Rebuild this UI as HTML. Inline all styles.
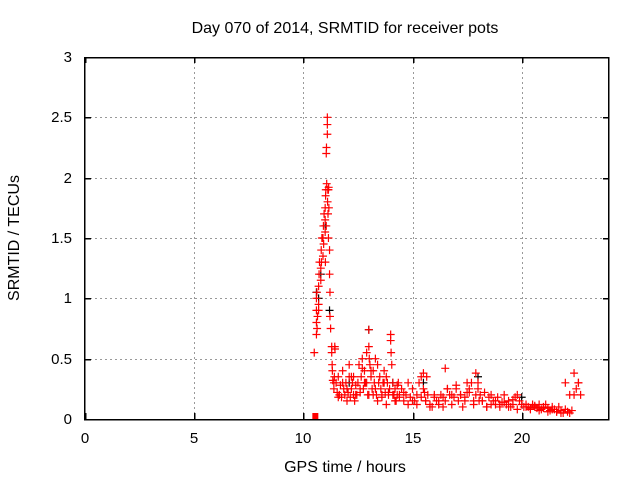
<!DOCTYPE html>
<html><head><meta charset="utf-8"><style>
body{margin:0;background:#fff;}
svg{display:block;font-family:"Liberation Sans",sans-serif;}
</style></head><body>
<svg id="chart" width="640" height="480">
<rect width="640" height="480" fill="#fff"/>
<text x="345" y="33" font-size="16" text-anchor="middle">Day 070 of 2014, SRMTID for receiver pots</text>
<text x="345" y="472" font-size="16" text-anchor="middle">GPS time / hours</text>
<text x="0" y="0" font-size="16" text-anchor="middle" transform="translate(19,238) rotate(-90)">SRMTID / TECUs</text>
<g id="grid"></g><g id="axes"></g><g id="marks"></g><g id="frame"></g>
</svg>
<script>
const xTicks=[0,5,10,15,20];
const yTicks=[0,0.5,1,1.5,2,2.5,3];
const yTickLabels=["0","0.5","1","1.5","2","2.5","3"];
const xTickLabels=["0","5","10","15","20"];
const redX=[10.5,10.6,10.6,10.6,10.6,10.62,10.63,10.65,10.7,10.7,10.72,10.74,10.7,10.8,10.8,10.82,10.85,10.83,10.9,10.9,10.92,10.95,10.93,11.0,11.0,11.02,11.03,11.0,11.01,11.05,11.06,11.07,11.05,11.1,11.1,11.1,11.12,11.11,11.13,11.15,11.16,11.17,11.15,11.2,11.2,11.22,11.22,11.25,11.3,11.3,11.32,11.33,11.35,11.4,11.4,11.42,11.44,11.45,
11.5,11.55,11.6,11.65,11.7,11.75,11.8,11.85,11.9,11.95,12.0,12.05,12.1,12.15,12.2,12.25,12.3,12.35,12.4,12.45,12.5,12.55,12.6,12.65,12.7,12.75,12.8,12.85,12.9,12.95,13.0,13.0,13.02,13.05,13.1,13.15,13.2,13.25,13.3,13.35,13.4,13.45,13.5,13.55,13.6,13.65,13.7,13.75,13.8,13.85,13.9,13.95,14.0,14.0,14.02,14.05,14.1,14.15,14.2,14.25,14.3,14.35,14.4,14.5,14.6,14.7,14.8,14.9,15.0,15.1,15.2,15.3,15.4,15.5,15.5,15.6,15.7,15.8,15.9,16.0,16.1,16.2,16.3,16.4,16.5,16.6,16.7,16.8,16.9,17.0,17.1,17.2,17.3,17.4,17.5,17.6,17.7,17.8,17.9,18.0,18.0,18.1,18.2,18.3,18.4,18.5,18.6,18.7,18.8,18.9,19.0,19.1,19.2,19.3,19.4,19.5,19.6,19.7,19.8,19.9,20.0,20.1,20.2,20.3,20.4,20.5,20.6,20.7,20.8,20.9,21.0,21.1,21.2,21.3,21.4,21.5,21.6,21.7,21.8,21.9,22.0,22.1,22.2,22.3,22.4,22.5,22.6,22.7,
11.6,11.8,12.0,12.2,12.4,12.6,12.8,13.0,13.2,13.4,13.6,13.8,14.2,14.4,14.6,14.8,15.0,15.2,15.4,15.6,15.8,16.0,16.2,16.4,16.6,16.8,17.0,17.2,17.4,17.6,17.8,18.2,18.4,18.6,18.8,19.0,19.2,19.4,19.6,19.8,20.2,20.4,20.6,20.8,21.0,21.2,21.4,21.6,21.8,22.0,22.2,22.4,22.6,
12.1,12.3,12.7,12.9,13.1,13.3,13.7,13.9,14.1,14.3,15.55,15.65,16.5,17.5,17.9,18.05,18.15,19.9,20.0,21.9];
const redY=[0.55,0.7,0.8,0.9,1.0,1.05,0.75,0.85,0.95,1.1,1.2,1.3,0.9,1.15,1.25,1.4,1.5,1.3,1.35,1.5,1.6,1.7,1.45,1.65,1.75,1.85,1.9,1.55,1.3,2.2,2.25,1.95,1.6,2.36,2.44,2.5,1.9,1.8,1.7,1.9,1.92,1.75,1.5,1.4,1.2,1.05,0.85,0.75,0.6,0.55,0.45,0.4,0.32,0.3,0.25,0.35,0.6,0.58,
0.3,0.22,0.35,0.2,0.28,0.18,0.4,0.25,0.2,0.3,0.15,0.22,0.35,0.18,0.25,0.3,0.2,0.15,0.28,0.2,0.3,0.45,0.22,0.35,0.5,0.25,0.4,0.3,0.55,0.2,0.74,0.6,0.5,0.45,0.35,0.25,0.4,0.3,0.5,0.2,0.45,0.3,0.35,0.25,0.2,0.3,0.4,0.22,0.35,0.3,0.2,0.25,0.7,0.65,0.55,0.45,0.3,0.2,0.25,0.15,0.2,0.3,0.18,0.25,0.15,0.2,0.12,0.18,0.25,0.15,0.2,0.3,0.35,0.38,0.25,0.15,0.2,0.12,0.1,0.18,0.15,0.12,0.2,0.1,0.15,0.25,0.2,0.12,0.18,0.25,0.15,0.2,0.1,0.18,0.22,0.25,0.3,0.15,0.38,0.3,0.25,0.2,0.15,0.22,0.1,0.18,0.2,0.15,0.12,0.18,0.1,0.14,0.2,0.12,0.15,0.1,0.16,0.18,0.2,0.15,0.12,0.1,0.12,0.1,0.08,0.12,0.1,0.09,0.12,0.08,0.1,0.12,0.09,0.07,0.1,0.08,0.06,0.1,0.07,0.05,0.08,0.06,0.05,0.07,
0.2,0.25,0.3,0.2,0.18,0.3,0.25,0.35,0.2,0.25,0.3,0.2,0.2,0.15,0.18,0.12,0.15,0.2,0.22,0.3,0.15,0.12,0.18,0.15,0.1,0.2,0.15,0.18,0.25,0.2,0.28,0.2,0.15,0.22,0.12,0.15,0.1,0.12,0.15,0.12,0.14,0.1,0.12,0.08,0.1,0.09,0.11,0.07,0.09,0.06,0.08,0.06,0.05,
0.3,0.2,0.38,0.3,0.45,0.35,0.42,0.3,0.4,0.25,0.3,0.22,0.2,0.28,0.22,0.35,0.42,0.3,0.2,0.15];
const blackX=[10.6,10.7,10.8,11.0,11.2,12.1,13.0,14.1,15.5,18.0,20.0];
const blackY=[1.05,1.0,1.2,1.6,0.9,0.3,0.74,0.3,0.3,0.35,0.18];
const xs=v=>85+v*524/24, ys=v=>419-v*362/3;
const NS="http://www.w3.org/2000/svg";
function mk(tag,attrs,parent){const e=document.createElementNS(NS,tag);for(const k in attrs)e.setAttribute(k,attrs[k]);parent.appendChild(e);return e;}
const grid=document.getElementById('grid'),axes=document.getElementById('axes'),marks=document.getElementById('marks'),frame=document.getElementById('frame');
xTicks.forEach((t,i)=>{const x=Math.round(xs(t));
 if(i>0){const g=mk('line',{x1:x+0.5,x2:x+0.5,y1:57,y2:419,stroke:'#999','stroke-dasharray':'2,3'},grid);
 
 }
 const tk=mk('rect',{x:x,y:413,width:1.5,height:6,fill:'#000'},axes);
 
 
 const tk2=mk('rect',{x:x,y:57,width:1.5,height:6,fill:'#000'},axes);
 
 
 const l=mk('text',{x:x,y:443,'font-size':15,'text-anchor':'middle'},axes);l.textContent=xTickLabels[i];
 
 });
yTicks.forEach((t,i)=>{const y=Math.round(ys(t));
 if(i>0&&i<yTicks.length-1){const g=mk('line',{x1:85,x2:609,y1:y+0.5,y2:y+0.5,stroke:'#999','stroke-dasharray':'2,3'},grid);
 
 }
 const tk=mk('rect',{x:85,y:y,width:6,height:1.5,fill:'#000'},axes);
 
 
 const tk2=mk('rect',{x:603,y:y,width:6,height:1.5,fill:'#000'},axes);
 
 
 const l=mk('text',{x:72,y:y+5,'font-size':15,'text-anchor':'end'},axes);l.textContent=yTickLabels[i];
 
 });
function plus(x,y,c,name){const p=mk('path',{d:`M${x-4} ${y}h8M${x} ${y-4}v8`,stroke:c,'stroke-width':1.2,fill:'none'},marks);
 
 }
blackX.forEach((v,i)=>plus(xs(v),ys(blackY[i]),'#000','black-point'));
redX.forEach((v,i)=>plus(xs(v),ys(redY[i]),'#f00','red-point'));
const sq=mk('rect',{x:xs(10.55)-3,y:ys(0)-6,width:6,height:6,fill:'#f00'},marks);


[[84,57,1.5,363],[608,57,1.5,363],[84,57,525.5,1.5],[84,419,525.5,1.5]].forEach(r=>{
 const f=mk('rect',{x:r[0],y:r[1],width:r[2],height:r[3],fill:'#000'},frame);
 
 });
</script>
</body></html>
